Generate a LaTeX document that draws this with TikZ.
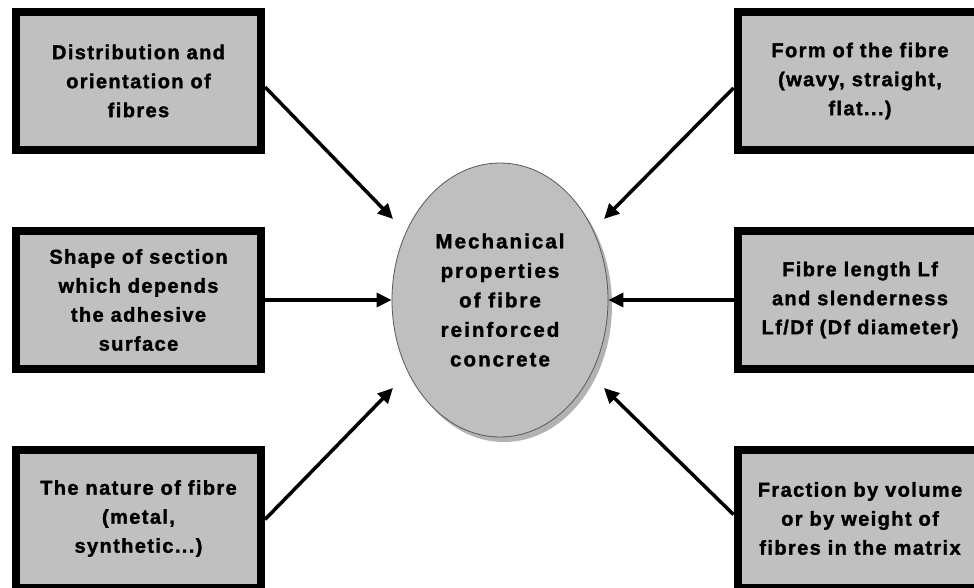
\documentclass[tikz,border=0pt]{standalone}
\usepackage{fontspec}
\setmainfont{Liberation Sans}[LetterSpace=7, BoldFeatures={FakeBold=1.6}]
\newfontfamily\hubfont{Liberation Sans}[LetterSpace=10, BoldFeatures={FakeBold=1.6}]
\usetikzlibrary{arrows.meta,shapes.geometric,shadows,calc}
\definecolor{boxgray}{HTML}{C0C0C0}
\definecolor{ellgray}{HTML}{BFBFBF}
\begin{document}
\begin{tikzpicture}[x=1pt,y=-1pt,
  factor/.style={rectangle, draw=black, line width=8pt, fill=boxgray,
    minimum width=245pt, minimum height=138pt, align=center, inner sep=0pt,
    font=\bfseries\fontsize{20}{29}\selectfont,
    drop shadow={shadow xshift=2pt, shadow yshift=-2pt, opacity=0.2, fill=black}},
  hub/.style={ellipse, draw=black!65, line width=0.8pt, fill=ellgray,
    minimum width=216pt, minimum height=274pt, align=center, inner sep=0pt,
    font=\hubfont\bfseries\fontsize{20.5}{29.5}\selectfont,
    drop shadow={shadow xshift=4pt, shadow yshift=-5pt, opacity=0.3, fill=black}},
  link/.style={line width=3.5pt, -{Triangle[length=15pt,width=14pt]}}]
\useasboundingbox (0,0) rectangle (974,588);
\fill[white] (0,0) rectangle (974,588);

\node[hub] (E) at (500,300) {Mechanical\\properties\\of fibre\\reinforced\\concrete};

\node[factor] (L1) at (138.5,81) {Distribution and\\orientation of\\fibres};
\node[factor] (L2) at (138.5,300) {Shape of section\\which depends\\the adhesive\\surface};
\node[factor] (L3) at (138.5,518.5) {The nature of fibre\\(metal,\\synthetic...)};
\node[factor] (R1) at (860,81) {Form of the fibre\\(wavy, straight,\\flat...)};
\node[factor] (R2) at (860,300) {Fibre length Lf\\and slenderness\\Lf/Df (Df diameter)};
\node[factor] (R3) at (860,518.5) {Fraction by volume\\or by weight of\\fibres in the matrix};

\coordinate (tL1) at (393,219);
\coordinate (tL3) at (393,388);
\coordinate (tR1) at (604,219);
\coordinate (tR3) at (604,388);

\draw[link] ($(L1.east)+(0,6)$) -- (tL1);
\draw[link] (L2.east) -- (E.west);
\draw[link] ($(L3.east)+(0,1)$) -- (tL3);
\draw[link] ($(R1.west)+(0,7)$) -- (tR1);
\draw[link] (R2.west) -- (E.east);
\draw[link] ($(R3.west)+(0,-4)$) -- (tR3);
\end{tikzpicture}
\end{document}
